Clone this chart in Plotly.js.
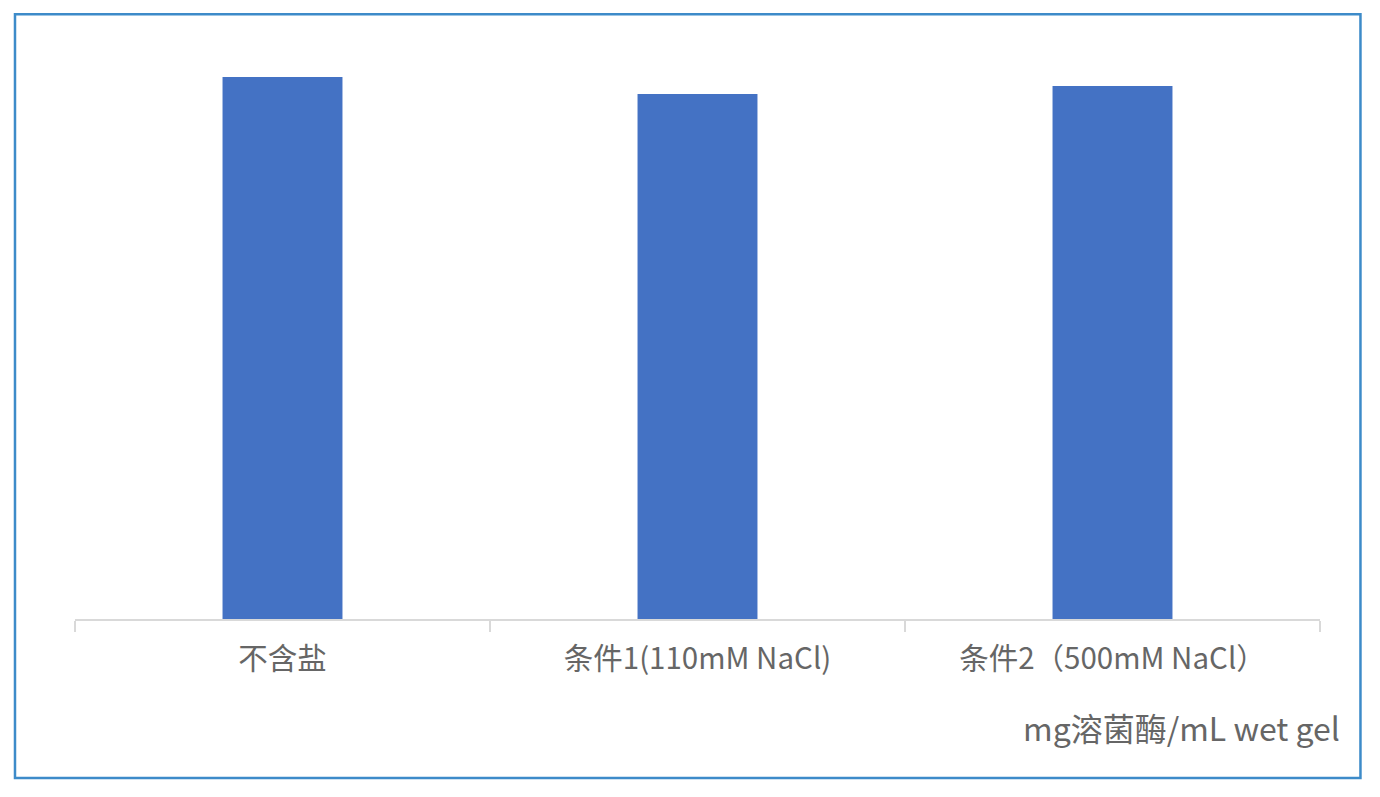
<!DOCTYPE html>
<html><head><meta charset="utf-8">
<script src="https://cdn.plot.ly/plotly-3.0.1.min.js"></script>
<style>html,body{margin:0;padding:0;background:#fff}#chart{width:1380px;height:797px}</style>
</head><body><div id="chart"></div>
<script>
const categories = ["不含盐", "条件1(110mM NaCl)", "条件2（500mM NaCl）"];
const values = [5.42, 5.25, 5.33];
const unitLabel = "mg溶菌酶/mL wet gel";

const font = '"Noto Sans CJK SC", "Noto Sans", sans-serif';
const trace = {
  type: 'bar', x: categories, y: values,
  marker: {color: '#4472c4'}, hoverinfo: 'x+y'
};
const layout = {
  width: 1380, height: 797,
  margin: {l: 75, r: 60, t: 19, b: 178},
  paper_bgcolor: '#ffffff', plot_bgcolor: '#ffffff',
  showlegend: false, bargap: 0.711,
  xaxis: {
    type: 'category', tickson: 'boundaries', ticks: 'outside', ticklen: 11,
    tickcolor: '#d9d9d9', tickwidth: 1.5, showline: true, linecolor: '#d9d9d9', linewidth: 1.5,
    showgrid: false, zeroline: false, ticklabelstandoff: 13,
    tickfont: {family: font, size: 29.5, color: '#666666'}
  },
  yaxis: {range: [0, 6], visible: false, showgrid: false, zeroline: false},
  shapes: [{
    type: 'rect', xref: 'paper', yref: 'paper', layer: 'below',
    x0: -0.0482, x1: 1.0325, y0: -0.265, y1: 1.008,
    line: {color: '#3d8bc9', width: 2.5}, fillcolor: 'rgba(0,0,0,0)'
  }],
  annotations: [{
    xref: 'paper', yref: 'paper', x: 1.0177, y: -0.18,
    xanchor: 'right', yanchor: 'middle', showarrow: false,
    text: unitLabel, font: {family: font, size: 32, color: '#666666'}
  }]
};
Plotly.newPlot('chart', [trace], layout, {displayModeBar: false, staticPlot: true});
</script></body></html>
